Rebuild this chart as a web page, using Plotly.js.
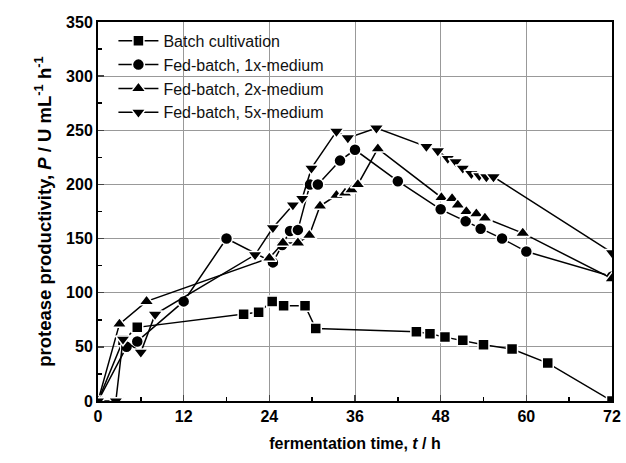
<!DOCTYPE html>
<html>
<head>
<meta charset="utf-8">
<script src="https://cdn.plot.ly/plotly-3.0.1.min.js"></script>
<style>html,body{margin:0;padding:0;background:#fff;}#chart{width:626px;height:463px;}</style>
</head>
<body>
<div id="chart"></div>
<script>
// Batch cultivation
const batchT = [0, 3.5, 5.5, 20.4, 22.5, 24.4, 26, 29, 30.5, 44.6, 46.5, 48.6, 51.1, 54, 58, 63, 72];
const batchP = [0, 56, 68, 80, 82, 92, 88, 88, 67, 64, 62, 59, 56, 52, 48, 35, 0];
// Fed-batch, 1x-medium
const fb1T = [0, 4, 5.5, 12, 18, 24.5, 25.8, 26.9, 28, 29.7, 30.8, 33.9, 36, 42, 48, 51.5, 53.6, 56.6, 60, 72];
const fb1P = [0, 50, 55, 92, 150, 128, 144, 157, 158, 200, 200, 222, 232, 203, 177, 166, 159, 150, 138, 115];
// Fed-batch, 2x-medium
const fb2T = [0, 3, 6.8, 24, 25.9, 28, 29.6, 31.1, 33.4, 34.6, 35.5, 36.4, 39.2, 48.1, 49.6, 50.4, 51.6, 53, 54.2, 59.5, 72];
const fb2P = [0, 71, 92, 132, 146, 146, 153, 180, 190, 192, 195, 200, 233, 188, 187, 181, 175, 173, 169, 155, 113];
// Fed-batch, 5x-medium
const fb5T = [0, 2.5, 3.5, 6, 8, 22, 24.5, 27.3, 28.6, 29.9, 33.4, 35, 39, 46, 47.6, 49, 50.1, 51.1, 52.3, 53.4, 54.4, 55.4, 72];
const fb5P = [0, 0, 57, 45, 80, 135, 160, 181, 187, 215, 249, 243, 252, 235, 231, 224, 221, 215, 210, 208, 207, 207, 137];

const names = ['Batch cultivation', 'Fed-batch, 1x-medium', 'Fed-batch, 2x-medium', 'Fed-batch, 5x-medium'];
const symbols = ['square', 'circle', 'triangle-up', 'triangle-down'];
const sizes = [11, 12, 13, 13];
const xs = [batchT, fb1T, fb2T, fb5T];
const ys = [batchP, fb1P, fb2P, fb5P];

const traces = xs.map((x, i) => ({
  x: x, y: ys[i], name: names[i], type: 'scatter', mode: 'lines+markers',
  line: {color: '#000', width: 1.5},
  marker: {symbol: symbols[i], size: sizes[i], color: '#000', line: {color: '#fff', width: 1.5}}
}));

const font = 'Liberation Sans, Arial, sans-serif';
const layout = {
  width: 626, height: 463,
  margin: {l: 98, r: 14, t: 22, b: 62},
  paper_bgcolor: '#fff', plot_bgcolor: '#fff',
  font: {family: font, color: '#000', size: 16},
  showlegend: true,
  legend: {x: 0.03, y: 0.995, xanchor: 'left', yanchor: 'top', bgcolor: 'rgba(0,0,0,0)',
           font: {family: font, size: 16, color: '#111'}, tracegroupgap: 0, itemwidth: 40},
  xaxis: {
    range: [0, 72], tickvals: [0, 12, 24, 36, 48, 60, 72], ticks: 'inside', ticklen: 6, tickwidth: 1.5,
    showline: true, linewidth: 2, linecolor: '#000', mirror: true,
    showgrid: true, gridcolor: '#999', gridwidth: 1, zeroline: false,
    tickfont: {family: font, size: 16, weight: 'bold'},
    minor: {dtick: 6, ticks: 'inside', ticklen: 4, tickcolor: '#000', showgrid: false},
    title: {text: '<b>fermentation time, <i>t</i> / h</b>', font: {family: font, size: 16}, standoff: 14}
  },
  yaxis: {
    range: [0, 350], dtick: 50, ticks: 'inside', ticklen: 6, tickwidth: 1.5,
    showline: true, linewidth: 2, linecolor: '#000', mirror: true,
    showgrid: true, gridcolor: '#999', gridwidth: 1, zeroline: false,
    tickfont: {family: font, size: 16, weight: 'bold'},
    minor: {dtick: 25, ticks: 'inside', ticklen: 4, tickcolor: '#000', showgrid: false},
    title: {text: '<b>protease productivity, <i>P</i> / U mL<sup>-1</sup> h<sup>-1</sup></b>', font: {family: font, size: 18.5}, standoff: 10}
  }
};

Plotly.newPlot('chart', traces, layout, {displayModeBar: false, staticPlot: true});
</script>
</body>
</html>
